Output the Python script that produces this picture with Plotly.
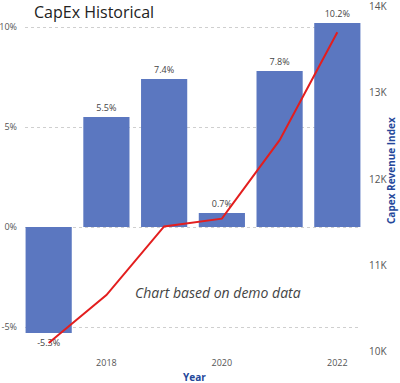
import plotly.graph_objects as go

years = ["2017", "2018", "2019", "2020", "2021", "2022"]
capex_pct = [-5.3, 5.5, 7.4, 0.7, 7.8, 10.2]
revenue_index = [10100, 10655, 11450, 11540, 12450, 13700]
x_tickvals = ["2018", "2020", "2022"]
left_tickvals = [-5, 0, 5, 10]
left_ticktext = ["-5%", "0%", "5%", "10%"]
right_tickvals = [10000, 11000, 12000, 13000, 14000]
right_ticktext = ["10K", "11K", "12K", "13K", "14K"]

FONT = "Open Sans, Noto Sans, DejaVu Sans, sans-serif"

fig = go.Figure()
fig.add_trace(go.Bar(
    x=years, y=capex_pct,
    marker=dict(color="#5b77c0", line=dict(width=0)),
    text=[f"{v:.1f}%" for v in capex_pct],
    textposition="outside",
    textfont=dict(size=9, color="#444", family=FONT),
    cliponaxis=False,
    width=0.8,
))
fig.add_trace(go.Scatter(
    x=years, y=revenue_index, yaxis="y2",
    mode="lines", line=dict(color="#e31e1e", width=2),
))

fig.update_layout(
    width=400, height=383,
    margin=dict(l=25, r=39, t=6, b=31),
    paper_bgcolor="white", plot_bgcolor="white",
    showlegend=False,
    font=dict(family=FONT, color="#555"),
    xaxis=dict(
        type="category", range=[-0.41, 5.41], automargin=False,
        tickvals=x_tickvals, ticktext=x_tickvals,
        tickfont=dict(size=9, color="#555"),
        showgrid=False, zeroline=False, showline=False,
        ticklabelstandoff=4,
    ),
    yaxis=dict(
        range=[-6.25, 11.05], automargin=False,
        tickvals=left_tickvals, ticktext=left_ticktext,
        tickfont=dict(size=9, color="#555"),
        showgrid=True, gridcolor="#cfcfcf", griddash="dot", gridwidth=1,
        zeroline=False, showline=False,
        ticklabelstandoff=7,
    ),
    yaxis2=dict(
        overlaying="y", side="right", automargin=False,
        range=[9995, 14005],
        tickvals=right_tickvals, ticktext=right_ticktext,
        tickfont=dict(size=10, color="#555"),
        showgrid=False, zeroline=False, showline=False,
        ticklabelstandoff=7, ticklabeloverflow="allow",
    ),
    annotations=[
        dict(text="CapEx Historical", xref="paper", yref="paper",
             x=(32 - 25) / 336, y=(352 - 12) / 346, xanchor="left", yanchor="middle",
             showarrow=False, font=dict(size=16, color="#222", family=FONT)),
        dict(text="Chart based on demo data", xref="paper", yref="paper",
             x=(218 - 25) / 336, y=(352 - 292) / 346, xanchor="center", yanchor="middle",
             showarrow=False, font=dict(size=14, color="#444", family=FONT, style="italic")),
        dict(text="<b>Year</b>", xref="paper", yref="paper",
             x=(194 - 25) / 336, y=(352 - 377) / 346, xanchor="center", yanchor="middle",
             showarrow=False, font=dict(size=10, color="#24479a", family=FONT)),
        dict(text="<b>Capex Revenue Index</b>", xref="paper", yref="paper",
             x=(391 - 25) / 336, y=(352 - 170) / 346, xanchor="center", yanchor="middle",
             textangle=-90, showarrow=False, font=dict(size=10, color="#24479a", family=FONT)),
    ],
)

fig.write_html("out.html", config={"displayModeBar": False},
               post_script="document.body.style.margin='0';document.body.style.overflow='hidden';")
